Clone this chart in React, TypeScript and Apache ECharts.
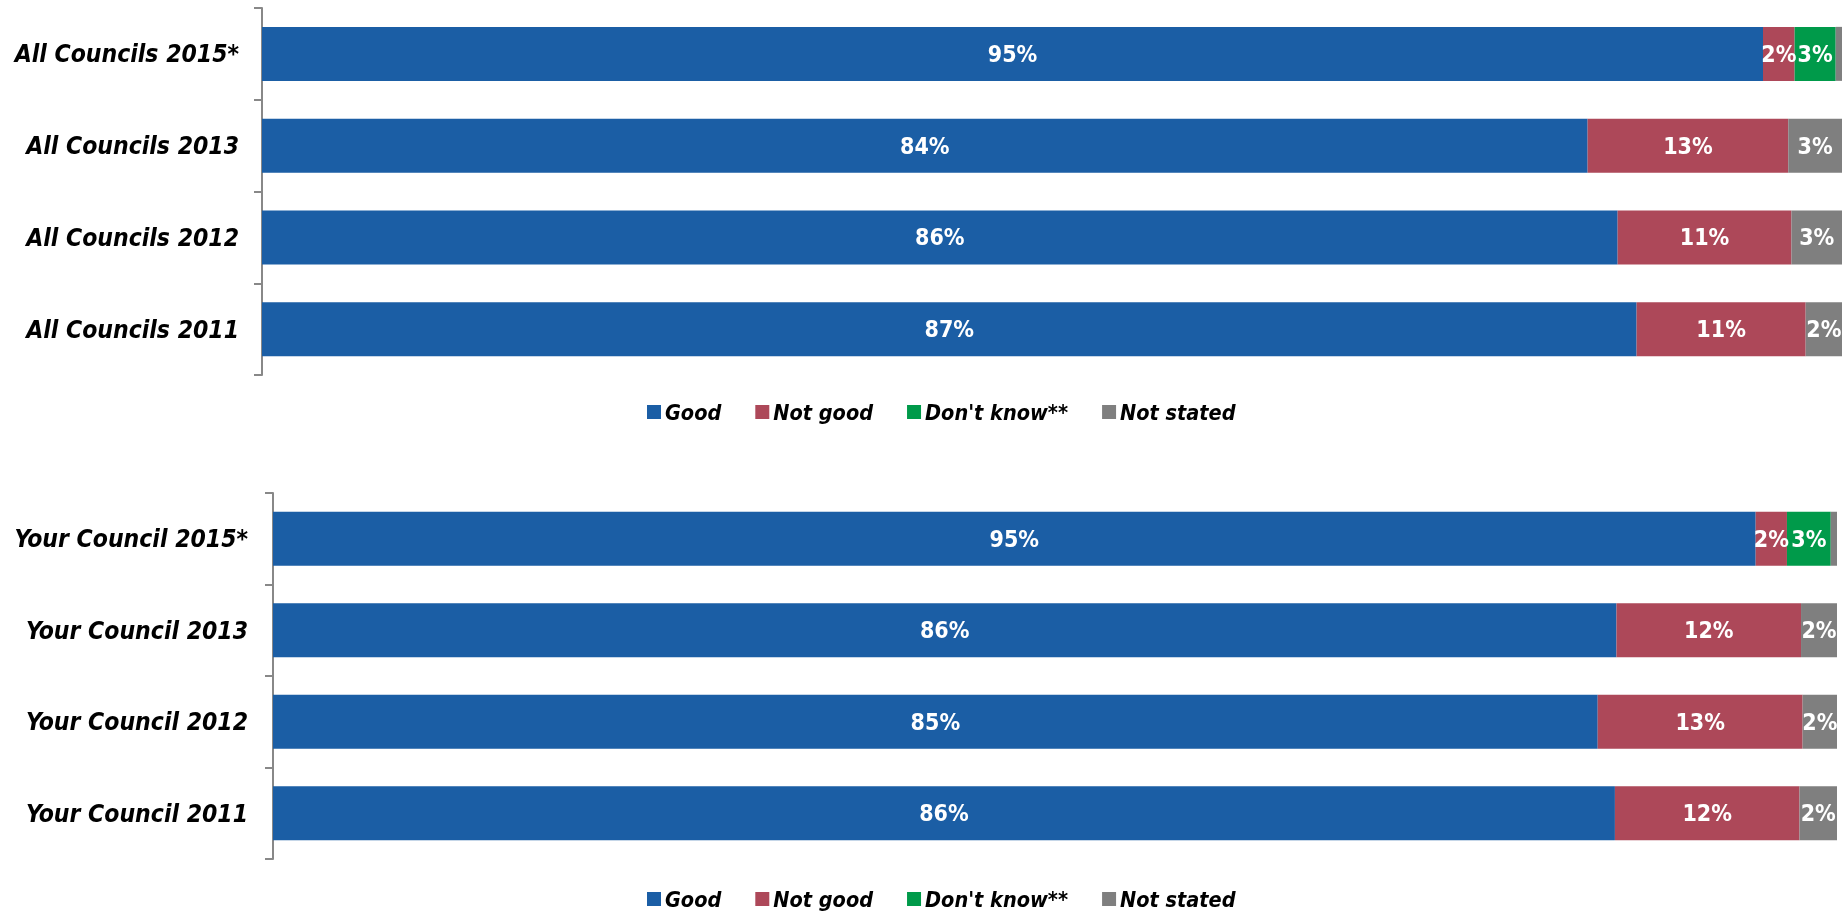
import React, { useEffect, useRef } from "react";
import * as echarts from "echarts";

const seriesNames = ["Good", "Not good", "Don't know**", "Not stated"];
const seriesColors = ["#1B5EA5", "#AD4859", "#009A4A", "#7F7F7F"];

const categoriesAll = ["All Councils 2015*", "All Councils 2013", "All Councils 2012", "All Councils 2011"];
const allGood = [95.0, 83.9, 85.8, 87.0];
const allNotGood = [2.0, 12.7, 11.0, 10.7];
const allDontKnow = [2.6, 0, 0, 0];
const allNotStated = [0.4, 3.4, 3.2, 2.3];

const categoriesYour = ["Your Council 2015*", "Your Council 2013", "Your Council 2012", "Your Council 2011"];
const yourGood = [94.8, 85.9, 84.7, 85.8];
const yourNotGood = [2.0, 11.8, 13.1, 11.8];
const yourDontKnow = [2.8, 0, 0, 0];
const yourNotStated = [0.4, 2.3, 2.2, 2.4];

const FONT = "'DejaVu Sans Condensed', 'DejaVu Sans', sans-serif";

export default function App() {
  const ref = useRef<HTMLDivElement>(null);
  useEffect(() => {
    if (!ref.current) return;
    const chart = echarts.init(ref.current, undefined, { renderer: "svg" });
    const allData = [allGood, allNotGood, allDontKnow, allNotStated];
    const yourData = [yourGood, yourNotGood, yourDontKnow, yourNotStated];
    const label = {
      show: true,
      position: "inside",
      color: "#fff",
      fontFamily: FONT,
      fontWeight: "bold",
      fontSize: 23,
      formatter: (p: any) => (p.value < 1 ? "" : Math.round(p.value) + "%"),
    };
    const makeSeries = (data: number[][], idx: number, stack: string) =>
      data.map((d, i) => ({
        name: seriesNames[i],
        type: "bar",
        stack,
        xAxisIndex: idx,
        yAxisIndex: idx,
        barWidth: 54,
        itemStyle: { color: seriesColors[i] },
        label,
        data: d,
      }));
    const yAxisCommon = {
      type: "category",
      inverse: true,
      axisLine: { show: true, lineStyle: { color: "#888", width: 2 } },
      axisTick: { show: true, length: 8, lineStyle: { color: "#888", width: 2 } },
      axisLabel: {
        color: "#000",
        fontFamily: FONT,
        fontStyle: "italic",
        fontWeight: "bold",
        fontSize: 24.5,
        margin: 23,
      },
    };
    const legendCommon = {
      left: 642,
      itemWidth: 14,
      itemHeight: 14,
      itemGap: 34,
      icon: "rect",
      textStyle: { fontFamily: FONT, fontStyle: "italic", fontWeight: "bold", fontSize: 21.5, color: "#000", padding: [0, 0, 0, -1] },
      data: seriesNames,
      selectedMode: false,
    };
    chart.setOption({
      animation: false,
      color: seriesColors,
      grid: [
        { left: 262, top: 8, width: 1580, height: 367 },
        { left: 273, top: 493, width: 1564, height: 366 },
      ],
      xAxis: [
        { type: "value", gridIndex: 0, min: 0, max: 100, show: false },
        { type: "value", gridIndex: 1, min: 0, max: 100, show: false },
      ],
      yAxis: [
        { ...yAxisCommon, gridIndex: 0, data: categoriesAll },
        { ...yAxisCommon, gridIndex: 1, data: categoriesYour, axisLabel: { ...yAxisCommon.axisLabel, margin: 25 } },
      ],
      legend: [
        { ...legendCommon, top: 396 },
        { ...legendCommon, top: 883 },
      ],
      series: [...makeSeries(allData, 0, "all"), ...makeSeries(yourData, 1, "your")],
    });
    return () => chart.dispose();
  }, []);
  return <div ref={ref} style={{ position: "fixed", left: 0, top: 0, width: 1848, height: 912 }} />;
}
